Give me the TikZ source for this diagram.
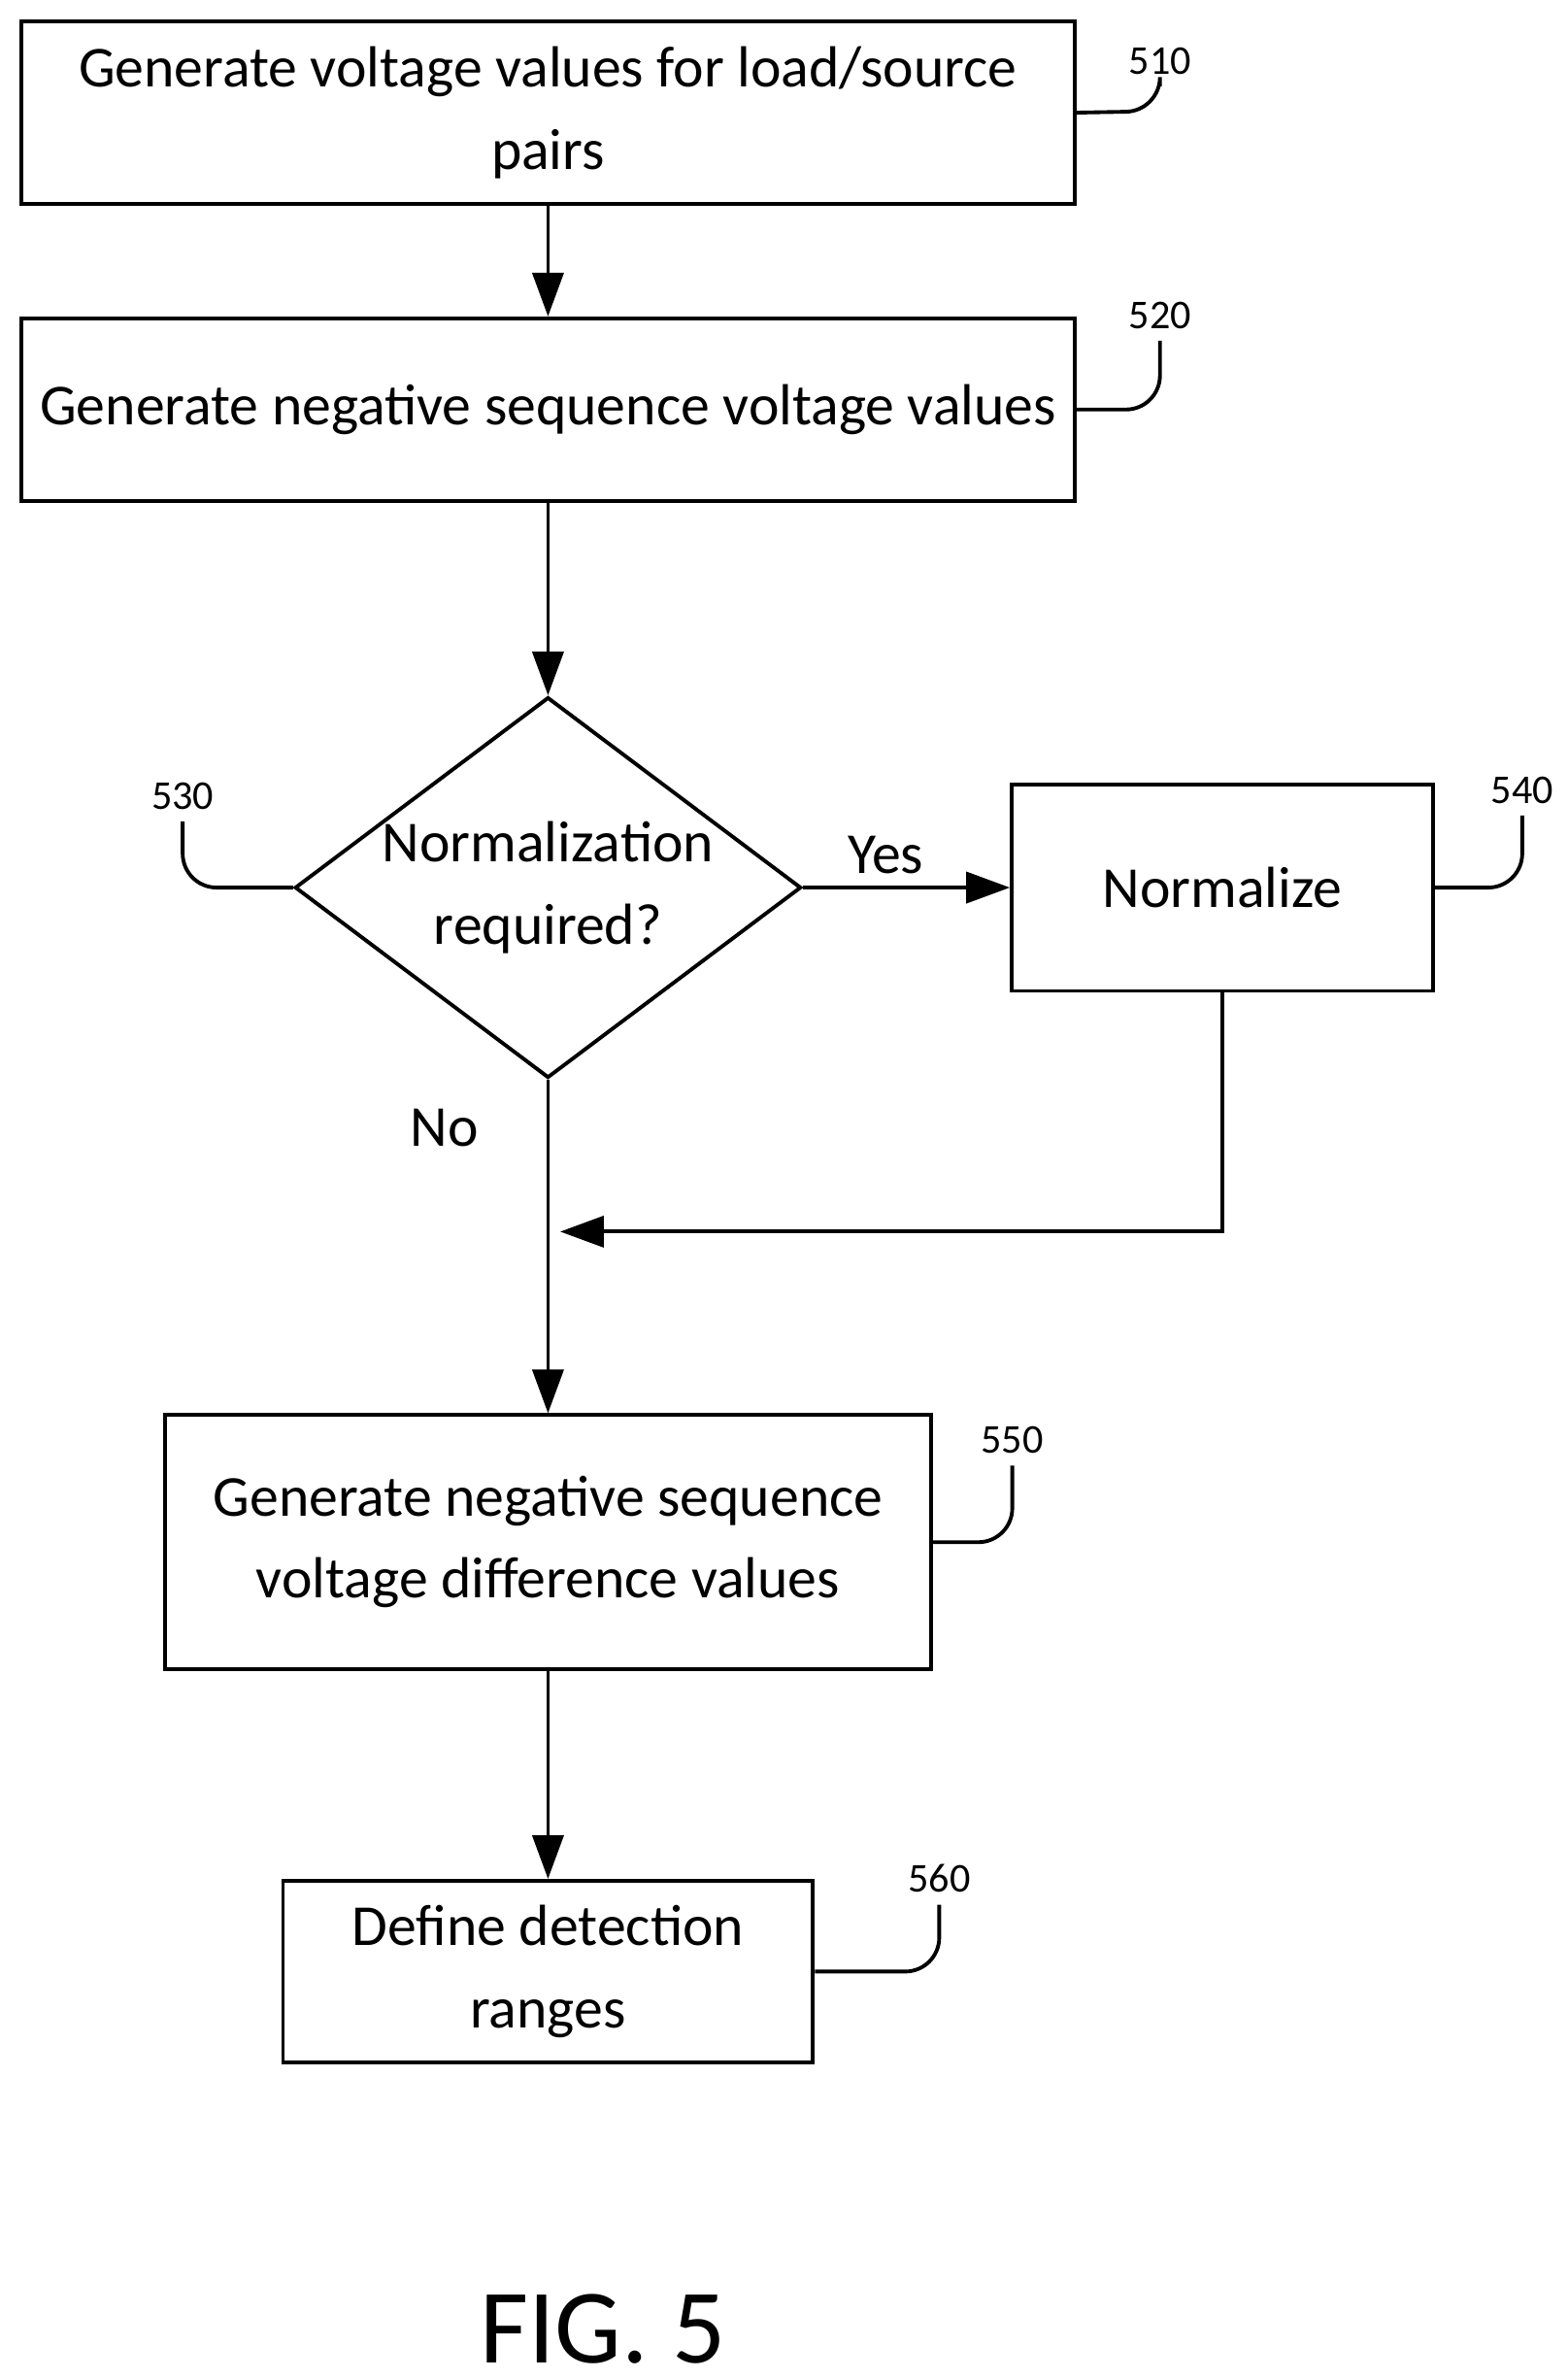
\documentclass[tikz,border=0pt]{standalone}
\usepackage{fontspec}
\setmainfont{Carlito}
\usetikzlibrary{shapes.geometric, arrows.meta, positioning}

\begin{document}
\begin{tikzpicture}[x=0.01568cm, y=-0.01568cm,
        block/.style={rectangle, draw, line width=1.1pt, align=center, inner sep=0pt, font=\fontsize{17}{24}\selectfont},
        decide/.style={diamond, draw, line width=1.1pt, align=center, inner sep=0pt, shape aspect=1.33, font=\fontsize{17}{24}\selectfont},
        ref/.style={font=\fontsize{12}{14}\selectfont},
        lead/.style={line width=1.1pt, rounded corners=0.35cm},
        arrow/.style={-{Triangle[length=0.45cm, width=0.32cm]}, line width=1.1pt}
    ]
        \useasboundingbox (0,0) rectangle (1030,1562);

        % Steps
        \node[block, minimum width=10.85cm, minimum height=1.88cm] (gen) at (360,74) {Generate voltage values for load/source\\pairs};
        \node[block, minimum width=10.85cm, minimum height=1.88cm] (neg) at (360,269) {Generate negative sequence voltage values};
        \node[decide, minimum width=5.17cm, minimum height=3.89cm] (norm) at (360,583) {Normalization\\required?};
        \node[block, minimum width=4.34cm, minimum height=2.13cm] (nrm) at (803,583) {Normalize};
        \node[block, minimum width=7.90cm, minimum height=2.62cm] (diff) at (360,1013) {Generate negative sequence\\voltage difference values};
        \node[block, minimum width=5.46cm, minimum height=1.87cm] (rng) at (360,1295) {Define detection\\ranges};

        % Connectors
        \draw[arrow] (gen) -- (neg);
        \draw[arrow] (neg) -- (norm);
        \draw[arrow] (norm) -- node[above, pos=0.4, font=\fontsize{17}{24}\selectfont] {Yes} (nrm);
        \draw[arrow] (norm) -- (diff);
        \coordinate (join) at (368,809);
        \draw[arrow] (nrm.south) |- (join);
        \draw[arrow] (diff) -- (rng);
        \node[font=\fontsize{17}{24}\selectfont] (no) at (292,741) {No};

        % Reference numerals
        \node[ref] (r510) at (762,40) {510};
        \draw[lead] (gen.east) -- (762,73) -- (r510.south);
        \node[ref] (r520) at (762,207) {520};
        \draw[lead] (neg.east) -- (762,269) -- (r520.south);
        \node[ref] (r530) at (120,523) {530};
        \draw[lead] (norm.west) -- (120,583) -- (r530.south);
        \node[ref] (r540) at (1000,519) {540};
        \draw[lead] (nrm.east) -- (1000,583) -- (r540.south);
        \node[ref] (r550) at (665,946) {550};
        \draw[lead] (diff.east) -- (665,1013) -- (r550.south);
        \node[ref] (r560) at (617,1234) {560};
        \draw[lead] (rng.east) -- (617,1295) -- (r560.south);

        \node[font=\fontsize{31}{36}\selectfont] (fig) at (396,1530) {FIG. 5};
\end{tikzpicture}
\end{document}
